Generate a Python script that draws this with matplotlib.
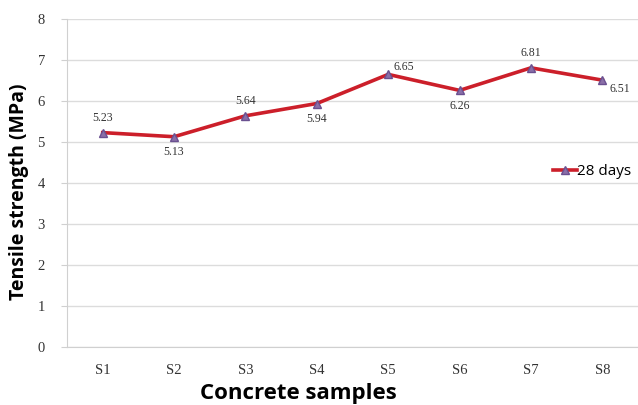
import matplotlib as mpl
mpl.use('Agg')
import matplotlib.pyplot as plt

samples = ['S1', 'S2', 'S3', 'S4', 'S5', 'S6', 'S7', 'S8']
strength_28 = [5.23, 5.13, 5.64, 5.94, 6.65, 6.26, 6.81, 6.51]
# where each value label sits relative to its point
label_pos = ['above', 'below', 'above', 'below', 'right', 'below', 'above', 'belowright']

fig = plt.figure(figsize=(6.38, 4.05), dpi=100)
ax = fig.add_axes([0.105, 0.143, 0.895, 0.81])

x = list(range(len(samples)))
ax.plot(x, strength_28, color='#cc1f2a', lw=2.6, marker='^', ms=6,
        markerfacecolor='#8a6fa8', markeredgecolor='#6a5090', label='28 days', zorder=3)

offsets = {'above': (0, 6, 'center', 'bottom'),
           'below': (0, -7, 'center', 'top'),
           'right': (4, 1, 'left', 'bottom'),
           'belowright': (5, -2, 'left', 'top')}
for xi, v, p in zip(x, strength_28, label_pos):
    dx, dy, ha, va = offsets[p]
    ax.annotate(f'{v:.2f}', (xi, v), xytext=(dx, dy), textcoords='offset points',
                ha=ha, va=va, fontsize=8.5, family='Liberation Serif', color='#333333')

ax.set_xlim(-0.5, 7.5)
ax.set_ylim(0, 8)
ax.set_yticks(range(0, 9))
ax.set_xticks(x)
ax.set_xticklabels(samples)
for lab in ax.get_xticklabels() + ax.get_yticklabels():
    lab.set_family('Liberation Serif')
    lab.set_fontsize(10.5)
    lab.set_color('#333333')
ax.tick_params(axis='y', length=4, color='#d0d0d0', pad=12)
ax.tick_params(axis='x', length=0, pad=12)

ax.grid(axis='y', color='#dcdcdc', lw=1)
ax.set_axisbelow(True)
for s in ['top', 'right']:
    ax.spines[s].set_visible(False)
ax.spines['left'].set_color('#d0d0d0')
ax.spines['bottom'].set_color('#d0d0d0')

ax.set_ylabel('Tensile strength (MPa)', fontsize=14, fontweight='bold', family='Open Sans')
ax.yaxis.set_label_coords(-0.066, 0.475)
ax.set_xlabel('Concrete samples', fontsize=16, fontweight='bold', family='Open Sans')
ax.xaxis.set_label_coords(0.406, -0.108)

ax.legend(loc='center left', bbox_to_anchor=(0.84, 0.535), frameon=False,
          prop={'family': 'Open Sans', 'size': 11}, handlelength=1.6, handletextpad=0.0,
          borderaxespad=0)

plt.savefig('out.png')
